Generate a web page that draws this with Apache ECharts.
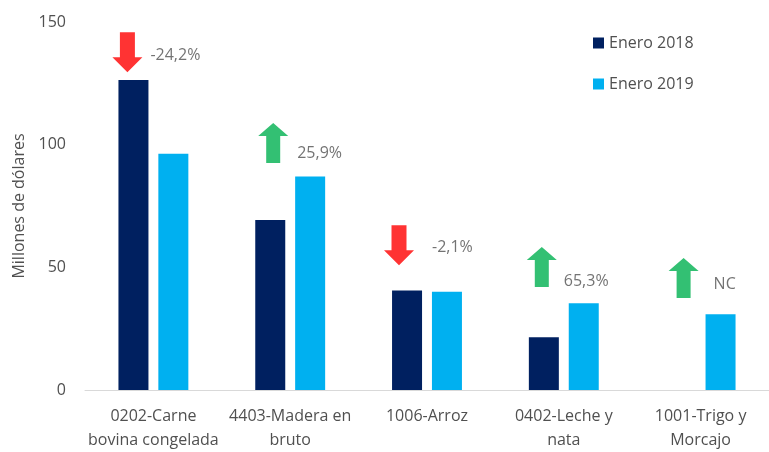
<!DOCTYPE html>
<html>
<head>
<meta charset="utf-8">
<script src="https://cdn.jsdelivr.net/npm/echarts@6/dist/echarts.min.js"></script>
<style>
  html, body { margin: 0; padding: 0; background: #fff; }
  #chart { width: 769px; height: 452px; }
</style>
</head>
<body>
<div id="chart"></div>
<script>
// Data
const categories = [
  "0202-Carne\nbovina congelada",
  "4403-Madera en\nbruto",
  "1006-Arroz",
  "0402-Leche y\nnata",
  "1001-Trigo y\nMorcajo",
];
const enero2018 = [126.4, 69.3, 40.6, 21.5, null];
const enero2019 = [96.3, 87.0, 40.0, 35.4, 30.9];
const yTicks = [0, 50, 100, 150];

// Variation annotations (arrow + text)
const changeText = ["-24,2%", "25,9%", "-2,1%", "65,3%", "NC"];
const changeUp = [false, true, false, true, true];
const arrowAt = [137.7, 100.7, 59.0, 50.1, 45.7];
const textAt = [136.4, 96.4, 58.2, 44.2, 42.9];

const font = "Open Sans";
const textColor = "#505050";

const downArrow = "path://M7.5,0L22.5,0L22.5,25L30,25L15,40L0,25L7.5,25Z";
const upArrow = "path://M15,0L30,13L22,13L22,40L8,40L8,13L0,13Z";

// small horizontal nudges of each arrow, relative to the category centre
const arrowDx = [-26, -17, -28, -22, -17];
const textDx = [-8, 2, 0, -5, 8];

const chart = echarts.init(document.getElementById("chart"));

chart.setOption({
  animation: false,
  textStyle: { fontFamily: font },
  grid: { left: 85, top: 22, width: 700, height: 374, containLabel: false },
  legend: {
    data: ["Enero 2018", "Enero 2019"],
    orient: "vertical",
    left: 588,
    top: 30,
    itemWidth: 11,
    itemHeight: 11,
    itemGap: 25,
    icon: "rect",
    textStyle: { fontFamily: font, fontSize: 16, color: textColor },
  },
  xAxis: {
    type: "category",
    data: categories,
    axisLine: { lineStyle: { color: "#d9d9d9", width: 1 } },
    axisTick: { show: false },
    axisLabel: {
      interval: 0,
      color: textColor,
      fontSize: 16,
      lineHeight: 24,
      margin: 14,
    },
  },
  yAxis: {
    type: "value",
    min: 0,
    max: yTicks[yTicks.length - 1],
    interval: 50,
    name: "Millones de dólares",
    nameLocation: "middle",
    nameGap: 58,
    nameTextStyle: { color: textColor, fontSize: 16 },
    axisLine: { show: false },
    axisTick: { show: false },
    splitLine: { show: false },
    axisLabel: { color: textColor, fontSize: 16, margin: 19 },
  },
  series: [
    {
      name: "Enero 2018",
      type: "bar",
      data: enero2018,
      barWidth: 30,
      barGap: "33%",
      itemStyle: { color: "#002060" },
    },
    {
      name: "Enero 2019",
      type: "bar",
      data: enero2019,
      barWidth: 30,
      itemStyle: { color: "#00B0F0" },
    },
    {
      name: "arrows",
      type: "scatter",
      silent: true,
      z: 5,
      data: arrowAt.map((v, i) => ({
        value: [i, v],
        symbol: changeUp[i] ? upArrow : downArrow,
        symbolOffset: [arrowDx[i], 0],
        itemStyle: { color: changeUp[i] ? "#00B050" : "#FF0000" },
      })),
      symbolSize: [30, 40],
    },
    {
      name: "changes",
      type: "scatter",
      silent: true,
      z: 6,
      symbolSize: 0,
      data: textAt.map((v, i) => ({
        value: [i, v],
        label: {
          show: true,
          position: "right",
          offset: [textDx[i], 0],
          formatter: changeText[i],
          color: textColor,
          fontSize: 16,
          fontFamily: font,
        },
      })),
    },
  ],
});
</script>
</body>
</html>
